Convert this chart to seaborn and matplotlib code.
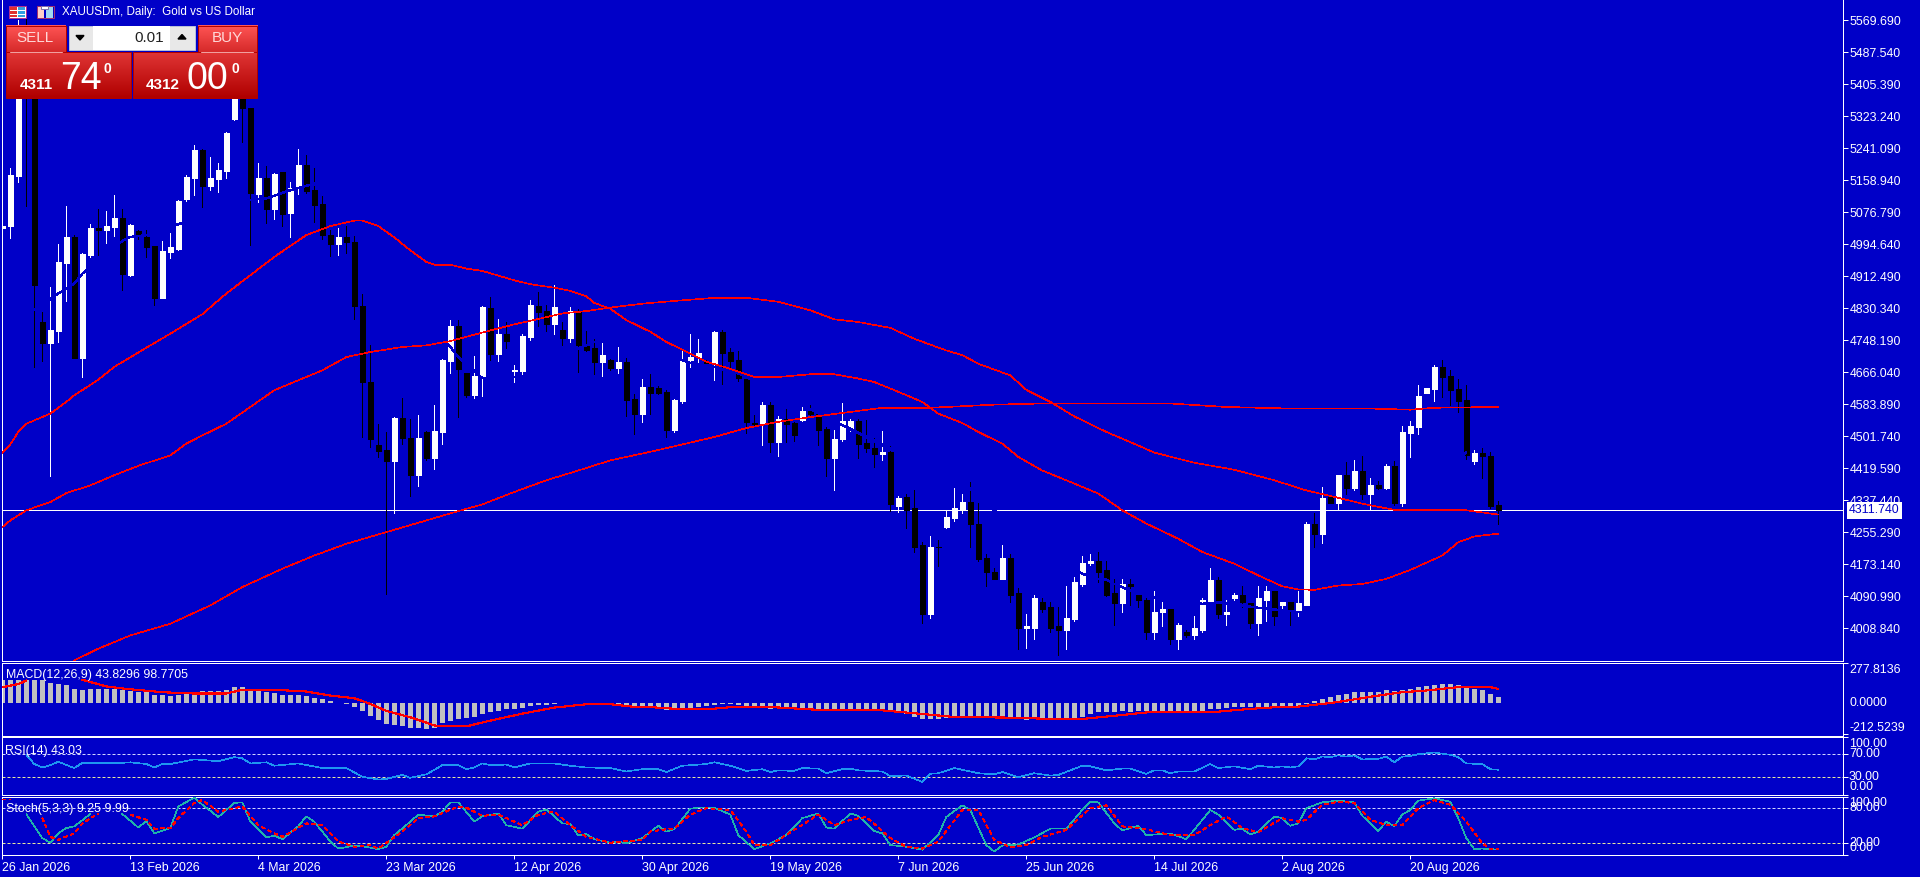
import numpy as np
import pandas as pd
import matplotlib
matplotlib.use("Agg")
import matplotlib.pyplot as plt
import seaborn as sns

BG = "#0000C8"
W, H = 1920, 877

sns.set_theme(style="dark", rc={"axes.facecolor": BG, "figure.facecolor": BG})
plt.rcParams["font.family"] = ["Liberation Sans", "DejaVu Sans"]

# daily candles
opens = [5037,5041,5169,5518,5450,4794,4741,4771,4947,5012,
         4703,4966,5035,5031,5039,5061,4915,5029,5013,4989,
         4857,4975,4983,5110,5165,5236,5144,5161,5182,5315,
         5407,5345,5123,5164,5084,5179,5075,5141,5197,5133,
         5097,5018,4995,5012,5001,4836,4642,4479,4466,4438,
         4549,4498,4402,4512,4446,4512,4694,4784,4663,4607,
         4657,4832,4712,4764,4669,4669,4756,4837,4823,4789,
         4774,4753,4823,4734,4729,4692,4697,4676,4692,4597,
         4558,4628,4625,4615,4517,4592,4697,4705,4692,4689,
         4769,4717,4697,4648,4535,4535,4581,4486,4545,4535,
         4543,4566,4558,4520,4445,4494,4520,4540,4484,4473,
         4456,4461,4322,4345,4317,4222,4045,4219,4268,4291,
         4314,4332,4278,4189,4153,4137,4189,4099,4009,4011,
         4076,4063,4014,4004,4032,4124,4176,4183,4158,4099,
         4073,4124,4094,4083,3999,4050,4058,3983,4001,3993,
         4006,4078,4132,4045,4088,4094,4073,4022,4083,4106,
         4070,4076,4055,4070,4278,4250,4345,4330,4402,4368,
         4414,4353,4378,4368,4425,4330,4509,4525,4612,4622,
         4679,4656,4622,4594,4438,4458,4452,4325]
highs = [5108,5189,5570,5583,5467,4821,4885,4995,5092,5019,
         4971,5046,5086,5080,5120,5084,5046,5032,5031,4991,
         5002,5024,5108,5172,5249,5238,5217,5204,5282,5433,
         5433,5345,5204,5195,5176,5180,5155,5238,5223,5191,
         5127,5031,5037,5042,5015,4866,4735,4534,4513,4551,
         4601,4545,4556,4515,4581,4699,4800,4800,4663,4707,
         4835,4858,4802,4794,4684,4765,4851,4871,4838,4889,
         4795,4834,4829,4771,4752,4740,4699,4730,4703,4610,
         4648,4661,4630,4620,4597,4722,4764,4751,4697,4771,
         4774,4728,4720,4651,4556,4589,4589,4553,4571,4538,
         4579,4581,4561,4525,4517,4586,4545,4545,4543,4497,
         4515,4476,4348,4353,4363,4230,4245,4235,4309,4368,
         4355,4384,4330,4199,4165,4222,4199,4112,4045,4096,
         4086,4076,4063,4117,4140,4196,4201,4204,4181,4135,
         4137,4135,4096,4086,4104,4076,4060,4024,4004,4040,
         4088,4165,4142,4083,4099,4117,4073,4117,4119,4106,
         4078,4078,4106,4281,4304,4371,4348,4402,4435,4440,
         4450,4396,4386,4430,4438,4527,4540,4633,4625,4684,
         4697,4671,4648,4633,4466,4473,4461,4335]
lows = [4979,5011,5155,5092,4680,4695,4399,4744,4848,4703,
        4654,4962,4966,4998,5015,4877,4912,5008,4962,4838,
        4857,4960,4979,5105,5120,5090,5133,5129,5165,5313,
        5257,4992,5103,5049,5060,5041,5013,5123,5127,5052,
        5007,4965,4966,4972,4802,4500,4474,4449,4098,4305,
        4483,4349,4374,4440,4417,4481,4664,4551,4603,4600,
        4604,4697,4695,4729,4641,4661,4748,4784,4771,4764,
        4735,4743,4667,4720,4661,4656,4671,4663,4553,4507,
        4538,4558,4610,4499,4512,4586,4679,4692,4684,4646,
        4635,4671,4643,4509,4527,4479,4461,4450,4486,4489,
        4540,4553,4479,4399,4363,4489,4515,4445,4461,4422,
        4440,4309,4307,4266,4206,4022,4035,4168,4266,4284,
        4304,4217,4183,4119,4135,4137,4078,3957,3960,3981,
        4050,3999,3940,3957,4027,4119,4171,4127,4091,4019,
        4052,4070,4065,3983,3981,4014,3968,3957,3986,3981,
        4001,4078,4037,4019,4081,4063,4009,3993,4027,4019,
        4060,4017,4040,4070,4219,4227,4330,4312,4353,4363,
        4340,4312,4366,4366,4325,4322,4448,4507,4612,4592,
        4602,4581,4563,4443,4432,4394,4319,4278]
closes = [5041,5172,5416,5381,4889,4741,4774,4949,5012,4703,
          4969,5035,5031,5041,5061,4919,5043,5022,4988,4857,
          4977,4988,5106,5167,5236,5144,5164,5185,5280,5416,
          5345,5125,5164,5084,5174,5073,5140,5197,5131,5096,
          5018,4995,5013,5001,4836,4642,4494,4463,4438,4549,
          4497,4402,4497,4446,4515,4697,4784,4674,4607,4657,
          4834,4714,4764,4746,4671,4758,4838,4821,4789,4834,
          4754,4823,4735,4724,4693,4710,4676,4692,4595,4559,
          4628,4612,4612,4517,4594,4694,4705,4715,4689,4769,
          4715,4694,4651,4538,4533,4581,4486,4545,4533,4504,
          4566,4558,4517,4445,4494,4540,4540,4481,4471,4456,
          4461,4327,4343,4314,4219,4045,4219,4218,4294,4317,
          4332,4276,4186,4153,4137,4189,4096,4009,4014,4088,
          4060,4011,4004,4035,4127,4176,4183,4155,4096,4073,
          4124,4117,4081,3999,4052,4058,3983,4017,3993,4009,
          4081,4132,4045,4052,4094,4076,4022,4086,4106,4042,
          4076,4055,4073,4278,4250,4343,4330,4402,4368,4414,
          4353,4376,4368,4425,4330,4512,4527,4604,4625,4679,
          4653,4620,4592,4453,4458,4450,4322,4311.74]
last_price = 4311.74

# moving averages, read at these bars
fast_bars = [0,1,2,3,6,8,9,12,14,18,21,25,28,31,34,38,41,44,45,47,49,51,53,54,56,58,60,
             64,66,69,71,73,74,76,78,81,83,86,88,91,94,97,101,104,107,109,112,115,117,120,
             122,125,127,130,133,137,140,143,147,150,154,157,160,162,164,167,170,173,176,180,182,184,187]
fast_ma = [4459,4481,4513,4534,4560,4590,4607,4647,4680,4729,4765,4815,4868,4915,4962,5018,5041,5055,5055,5041,5012,4979,4949,4942,4942,4932,4926,
           4902,4892,4883,4875,4861,4844,4829,4800,4770,4744,4714,4693,4675,4654,4654,4661,4661,4650,4641,4616,4590,4560,4536,
           4513,4483,4449,4414,4389,4355,4312,4278,4239,4205,4175,4145,4117,4109,4108,4119,4123,4136,4159,4196,4230,4245,4252]
mid_bars = [0,1,3,6,8,11,14,17,21,23,25,28,31,34,40,43,46,50,53,56,60,
            64,66,70,73,76,80,84,89,93,97,101,104,107,111,114,118,120,
            122,126,128,131,134,138,141,144,149,154,159,163,167,170,174,183,187]
mid_ma = [4269,4286,4312,4333,4356,4376,4402,4426,4453,4483,4504,4534,4577,4620,4671,4705,4718,4731,4735,4746,4768,
          4789,4798,4817,4823,4832,4842,4849,4857,4857,4847,4825,4802,4795,4780,4752,4722,4710,
          4688,4658,4621,4590,4553,4513,4487,4460,4434,4416,4389,4363,4344,4329,4313,4312,4301]
slow_bars = [9,12,16,21,26,30,35,39,43,48,53,57,60,64,68,72,76,81,85,89,93,97,101,107,110,116,120,
             124,130,146,153,161,171,176,179,187]
slow_ma = [3927,3957,3991,4021,4068,4115,4162,4196,4226,4256,4286,4310,4327,4359,4389,4414,4440,4462,4481,4500,4523,4539,4551,4567,4575,4575,4579,
           4583,4586,4586,4577,4573,4573,4570,4575,4577]
# a fourth average is drawn in the background colour and only shows where it cuts candles
hidden_bars = [4,7,9,10,15,16,18,31,33,36,39,56,57,60,65,70,72,74,75,85,86,89,90,92,93,121,124,
               135,137,138,139,140,141,144,150,152,157,162,164,183]
hidden_ma = [4825,4868,4894,4919,5003,5013,5018,5108,5112,5133,5150,4731,4705,4651,4654,4697,4727,4744,4744,4697,4690,4680,4674,4663,4654,4367,4312,
             4149,4136,4134,4123,4115,4106,4089,4072,4076,4062,4051,4046,4461]

macd_hist = [162,162,162,162,162,162,141,132,125,100,93,100,100,100,100,93,86,81,76,58,
             58,53,60,69,79,86,86,86,90,111,111,97,86,76,69,58,58,58,53,39,
             28,16,2,-2,-23,-53,-88,-116,-144,-150,-160,-169,-169,-176,-169,-139,-123,-109,-100,-95,
             -74,-58,-53,-39,-37,-35,-19,-12,-9,-5,0,5,2,-2,-2,-5,-7,-19,-23,-28,
             -30,-35,-37,-46,-42,-42,-35,-23,-19,-12,-7,-5,-12,-19,-28,-30,-37,-35,-42,-42,
             -42,-46,-42,-42,-46,-46,-46,-46,-46,-46,-46,-58,-69,-76,-93,-109,-109,-109,-104,-90,
             -90,-90,-95,-95,-93,-95,-95,-104,-116,-104,-104,-100,-104,-104,-100,-95,-74,-63,-58,-58,
             -53,-58,-53,-53,-53,-53,-53,-53,-51,-51,-51,-39,-39,-30,-28,-28,-28,-25,-23,-25,
             -16,-16,-16,-5,16,30,46,58,65,79,79,79,79,88,83,88,95,109,116,127,
             134,134,127,116,100,88,65,43.83]
signal_bars_a = [0,2,3]
signal_a = [111,132,157]
signal_bars_b = [10,13,15,20,24,28,30,35,38,41,44,46,48,51,54,55,58,61,65,69,73,76,79,80,85,88,92,95,
                 100,103,110,114,119,127,132,135,140,144,152,156,159,162,165,167,172,175,178,182,186,187]
signal_b = [162,116,102,76,67,67,93,90,81,53,35,-5,-53,-97,-153,-160,-160,-120,-72,-30,-7,-7,-25,-23,-42,-42,-23,-23,
            -39,-49,-49,-69,-95,-100,-111,-109,-81,-58,-58,-39,-28,-23,-5,9,53,76,88,111,111,98.77]

rsi_bars = [3,4,5,6,7,9,10,15,16,18,19,20,21,24,27,29,30,31,33,34,37,40,43,45,47,48,50,51,53,55,57,58,59,60,61,63,64,66,69,71,73,76,78,
            80,82,83,85,88,89,91,93,95,96,97,99,100,102,103,105,106,107,110,111,113,115,116,117,119,122,124,125,127,129,131,132,135,136,138,140,141,143,144,145,146,147,149,151,152,154,156,157,159,
            160,161,162,163,164,165,166,167,168,169,170,172,173,174,175,176,177,179,181,182,183,185,186,187]
rsi_vals = [69,53,47,51,57,46,55,55,56,53,47,53,53,61,58,65,63,54,56,50,54,46,46,31,26,27,34,29,35,51,51,44,47,54,51,52,47,54,54,50,47,46,40,
            44,44,39,50,53,56,50,41,44,39,42,41,46,45,37,44,45,42,40,32,33,22,36,37,46,37,35,39,30,37,33,34,50,49,42,45,45,36,42,42,37,40,40,53,46,49,44,50,47,
            49,47,49,63,61,66,65,68,66,68,61,62,66,56,66,67,70,73,69,65,54,53,44,43.03]

stoch_bars_a = [3,5,6,7,8,9,11]
stoch_a = [70,29,21,37,46,49,70]
stoch_bars_b = [15,17,18,19,21,22,24,25,27,29,30,31,33,34,35,37,38,39,41,42,44,45,47,48,49,51,52,54,55,56,57,59,60,62,63,65,67,68,70,71,72,73,74,76,77,78,
                80,82,83,84,86,87,89,91,92,94,96,98,100,102,103,104,106,107,109,110,111,113,115,117,118,120,121,123,124,125,127,129,131,133,135,136,137,139,140,142,143,146,148,149,151,152,154,155,156,157,159,
                160,161,162,163,165,167,169,170,172,173,174,175,176,177,179,181,182,183,184,185,186,187]
stoch_b = [70,47,58,37,46,83,98,86,65,89,90,57,30,33,27,49,66,57,23,11,16,15,10,14,34,57,69,66,74,90,90,57,66,71,51,45,74,78,54,53,33,36,27,21,23,20,
           29,50,40,44,79,81,81,69,34,10,20,34,63,71,47,45,71,67,41,37,17,14,9,34,65,85,77,17,6,16,18,30,45,45,77,91,90,54,42,50,34,37,27,43,77,69,43,45,35,40,66,
           63,50,54,80,90,93,90,67,41,57,49,69,77,93,97,91,63,29,10,11,10,9.25]
stoch_sig_bars_a = [0,1]
stoch_sig_a = [95,95]
stoch_sig_bars_b = [5,6,7,9,10,12]
stoch_sig_b = [63,31,26,37,54,71]
stoch_sig_bars_c = [16,18,19,21,22,24,25,27,30,32,34,35,38,40,42,44,46,47,50,52,54,57,58,60,62,65,67,69,71,73,76,
                    80,81,83,84,86,88,91,93,94,96,99,102,104,106,108,111,113,115,117,120,122,124,126,128,130,133,136,138,140,143,146,149,151,153,155,157,
                    160,162,163,165,167,169,171,173,175,177,179,181,183,185,186,187]
stoch_sig_c = [69,60,45,46,63,89,94,74,83,51,37,31,54,51,23,14,17,11,40,63,66,83,81,67,69,51,69,74,51,31,21,
               26,40,44,45,69,80,77,40,17,17,43,69,51,60,65,29,14,11,23,77,77,26,13,17,31,43,80,85,49,44,34,34,51,66,46,39,
               63,57,60,86,91,89,60,51,51,80,94,86,57,20,10,9.99]

price_ticks = [5569.69,5487.54,5405.39,5323.24,5241.09,5158.94,5076.79,4994.64,4912.49,4830.34,
               4748.19,4666.04,4583.89,4501.74,4419.59,4337.44,4255.29,4173.14,4090.99,4008.84]
date_bars = [0,16,32,48,64,80,96,112,128,144,160,176]
date_labels = ["26 Jan 2026","13 Feb 2026","4 Mar 2026","23 Mar 2026","12 Apr 2026","30 Apr 2026",
               "19 May 2026","7 Jun 2026","25 Jun 2026","14 Jul 2026","2 Aug 2026","20 Aug 2026"]

PX = 0.72  # one pixel in points
THIN = 0.45  # indicator lines, not antialiased
FS = 8.9
XLIM = (-0.0375, 230.09)


def panel(left, top, right, bottom):
    return fig.add_axes([left / W, 1 - bottom / H, (right - left) / W, (bottom - top) / H])


def style(ax, ymin, ymax):
    ax.set_xlim(*XLIM)
    ax.set_ylim(ymin, ymax)
    ax.set_xlabel("")
    ax.set_ylabel("")
    ax.grid(False)
    ax.yaxis.tick_right()
    ax.set_xticks([])
    ax.tick_params(axis="y", colors="white", length=5 * PX, width=PX, labelsize=FS, pad=1)
    for s in ax.spines.values():
        s.set_color("white")
        s.set_linewidth(PX)
        s.set_visible(True)


def side_label(ax, text, value, shift=0):
    ax.annotate(text, xy=(1, value), xycoords=("axes fraction", "data"), xytext=(6 * PX, shift * PX),
                textcoords="offset points", va="center", ha="left", color="white", fontsize=FS,
                annotation_clip=False)


def line(ax, x, y, color, lw=THIN, **kw):
    sns.lineplot(x=x, y=y, ax=ax, color=color, linewidth=lw, errorbar=None, antialiased=False, **kw)


def levels(ax, hi, lo):
    ax.axhline(hi, color="#D0D4FF", lw=PX, ls=(0, (3, 2)))
    ax.axhline(lo, color="#E6E6A0", lw=PX, ls=(0, (3, 2)))


fig = plt.figure(figsize=(W / 100, H / 100), dpi=100, facecolor=BG)

# main chart
ax = panel(2, 0, 1843, 660.5)
ax.axhline(last_price, color="white", lw=PX, zorder=1.5)
candles = pd.DataFrame({"bar": range(len(opens)), "open": opens, "high": highs, "low": lows, "close": closes})
candles["color"] = np.where(candles["close"] >= candles["open"], "white", "black")
ax.vlines(candles["bar"], candles["low"], candles["high"], colors=candles["color"], lw=PX, zorder=2, antialiased=False)
ax.bar(candles["bar"], (candles["close"] - candles["open"]).abs(), bottom=candles[["open", "close"]].min(axis=1),
       width=0.58, color=candles["color"], edgecolor=candles["color"], linewidth=0.4, zorder=2.1, antialiased=False)
line(ax, hidden_bars, hidden_ma, BG, lw=1.0, zorder=2.5)
line(ax, slow_bars, slow_ma, "#FF0000", zorder=3)
line(ax, mid_bars, mid_ma, "#FF0000", zorder=3)
line(ax, fast_bars, fast_ma, "#FF0000", zorder=3)
style(ax, 3926.7, 5621.0)
ax.spines["top"].set_visible(False)
ax.set_yticks(price_ticks)
ax.set_yticklabels([f"{t:.3f}" for t in price_ticks])
ax.annotate(f"{last_price:.3f}", xy=(1, last_price), xycoords=("axes fraction", "data"), xytext=(6 * PX, 0),
            textcoords="offset points", va="center", ha="left", color=BG, fontsize=FS, annotation_clip=False,
            bbox=dict(fc="white", ec="none", pad=1.8), zorder=6)

# MACD
ax = panel(2, 662.5, 1843, 735.5)
sns.barplot(x=list(range(len(macd_hist))), y=macd_hist, ax=ax, native_scale=True, width=0.6, color="#C0C0C0",
            saturation=1, linewidth=0, antialiased=False, zorder=2)
line(ax, signal_bars_a, signal_a, "#FF0000", lw=0.8, zorder=3)
line(ax, signal_bars_b, signal_b, "#FF0000", lw=0.8, zorder=3)
style(ax, -222.9, 281.3)
ax.set_yticks([277.8136, -212.5239])
ax.set_yticklabels([])
side_label(ax, "277.8136", 277.8136, -7)
side_label(ax, "0.0000", 0)
side_label(ax, "-212.5239", -212.5239, 6)
ax.text(4 / 1841, 0.83, "MACD(12,26,9) 43.8296 98.7705", transform=ax.transAxes, color="white", fontsize=FS, va="center")

# RSI
ax = panel(2, 737, 1843, 794.5)
levels(ax, 70, 30)
line(ax, rsi_bars, rsi_vals, "#1E96F0", zorder=3)
style(ax, 0, 100)
ax.set_yticks([100, 70, 30, 0])
ax.set_yticklabels([])
side_label(ax, "100.00", 100, -7)
side_label(ax, "70.00", 70)
side_label(ax, "30.00", 30)
side_label(ax, "0.00", 0, 7)
ax.text(3 / 1841, 0.75, "RSI(14) 43.03", transform=ax.transAxes, color="white", fontsize=FS, va="center")

# Stochastic
ax = panel(2, 796.5, 1843, 855)
levels(ax, 80, 20)
line(ax, stoch_bars_a, stoch_a, "#20B2AA", zorder=3)
line(ax, stoch_bars_b, stoch_b, "#20B2AA", zorder=3)
for bx, by in [(stoch_sig_bars_a, stoch_sig_a), (stoch_sig_bars_b, stoch_sig_b), (stoch_sig_bars_c, stoch_sig_c)]:
    line(ax, bx, by, "#FF0000", linestyle=(0, (5, 6)), zorder=4)
style(ax, 0, 100)
ax.set_yticks([100, 80, 20, 0])
ax.set_yticklabels([])
side_label(ax, "100.00", 100, -7)
side_label(ax, "80.00", 80)
side_label(ax, "20.00", 20)
side_label(ax, "0.00", 0, 7)
ax.text(4 / 1841, 0.78, "Stoch(5,3,3) 9.25 9.99", transform=ax.transAxes, color="white", fontsize=FS, va="center")
ax.set_xticks(date_bars)
ax.set_xticklabels(date_labels, ha="left")
ax.tick_params(axis="x", colors="white", length=4 * PX, width=PX, labelsize=FS, pad=2, bottom=True)

# trade panel and title, in pixel coordinates
ui = fig.add_axes([0, 0, 1, 1], facecolor="none", zorder=10)


def grad(x0, y0, x1, y1, c0, c1):
    rgb0 = np.array(matplotlib.colors.to_rgb(c0))
    rgb1 = np.array(matplotlib.colors.to_rgb(c1))
    t = np.linspace(0, 1, 32)[:, None, None]
    ui.imshow(rgb0 * (1 - t) + rgb1 * t, extent=(x0, x1, y1, y0), aspect="auto", zorder=1)
    ui.add_patch(plt.Rectangle((x0, y0), x1 - x0, y1 - y0, fc="none", ec="#B00000", lw=PX, zorder=2))


def box(x0, y0, x1, y1, fc, ec="none"):
    ui.add_patch(plt.Rectangle((x0, y0), x1 - x0, y1 - y0, fc=fc, ec=ec, lw=PX, zorder=2))


grad(6, 25.5, 65.5, 52, "#FF5555", "#D62A2A")
grad(197.5, 25.5, 257, 52, "#FF5555", "#D62A2A")
grad(6, 52, 131, 98, "#E03535", "#B00000")
grad(133, 52, 257, 98, "#E03535", "#B00000")
ui.plot([10, 62], [52, 52], color="#F0A0A0", lw=PX)
ui.plot([201, 253], [52, 52], color="#F0A0A0", lw=PX)

box(67.5, 24.5, 196, 51.5, BG)
box(68.5, 25.5, 195, 50, "#E8E8E8", "#B8C0D8")
box(93, 26, 170, 49.5, "white")
ui.fill([76, 84, 80], [35.5, 35.5, 40], color="black", zorder=3)
ui.fill([178, 186, 182], [39, 39, 34.5], color="black", zorder=3)
ui.text(164, 37.5, "0.01", ha="right", va="center", color="#202020", fontsize=11)
ui.text(35, 38.5, "SELL", ha="center", va="center", color="#FFD8D8", fontsize=11)
ui.text(227, 38.5, "BUY", ha="center", va="center", color="#FFD8D8", fontsize=11)

for px, big, sup, x0, x1, x2 in [("4311", "74", "0", 20, 60, 103), ("4312", "00", "0", 146, 187, 231)]:
    ui.text(x0, 89, px, ha="left", va="baseline", color="white", fontsize=11, fontweight="bold")
    ui.text(x1, 89, big, ha="left", va="baseline", color="white", fontsize=27)
    ui.text(x2, 73, sup, ha="left", va="baseline", color="white", fontsize=10, fontweight="bold")

# small icons next to the title
box(8.5, 5.5, 26, 18, "white", "#B03090")
box(10, 7, 16.5, 10, "#E03030")
box(10, 11, 16.5, 13.5, "#E03030")
box(10, 14.5, 16.5, 17, "#E03030")
box(18, 7, 24.5, 10, "#30A0E0")
box(18, 11, 24.5, 13.5, "#30A0E0")
box(18, 14.5, 24.5, 17, "#30A0E0")
box(36.5, 5.5, 53.5, 18, BG, "#A03070")
box(37.5, 7, 44, 17.5, "#FFD0C8")
box(46, 7, 53, 17.5, "#A0D8F0")
box(41, 5.5, 48, 9, "white", "#8070B0")
ui.text(62, 12.5, "XAUUSDm, Daily:  Gold vs US Dollar", ha="left", va="center", color="white", fontsize=8.4)

ui.set_xlim(0, W)
ui.set_ylim(H, 0)
ui.axis("off")

fig.savefig("out.png", dpi=100, facecolor=BG)
